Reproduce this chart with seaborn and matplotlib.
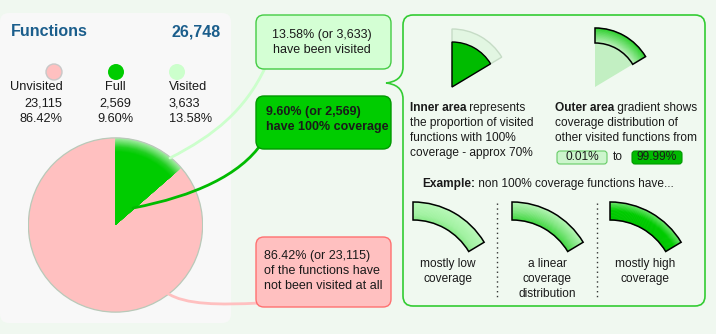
import numpy as np
import matplotlib
matplotlib.use("Agg")
import matplotlib.pyplot as plt
import seaborn as sns
from matplotlib.patches import FancyBboxPatch, Wedge, Circle, PathPatch
from matplotlib.path import Path
from matplotlib.colors import to_rgb

# ---------------- data ----------------
categories = ["Unvisited", "Full", "Visited"]
counts = [23115, 2569, 3633]
category_colors = ["#ffc0c0", "#00cc00", "#ccffcc"]
range_labels = ["0.01%", "99.99%"]
example_labels = ["mostly low\ncoverage", "a linear\ncoverage\ndistribution", "mostly high\ncoverage"]

total = counts[0] + counts[2]
pcts = [c / total * 100 for c in counts]

# ---------------- style ----------------
sns.set_theme(style="white")
plt.rcParams['font.family'] = ['Liberation Sans', 'DejaVu Sans']

BG = "#f0f8f0"
PANEL = "#f8f8f8"
TXT = "#1a1a1a"
W, H = 716, 334


def Y(y):
    return H - y


def lerp_stops(stops, t):
    for (t0, c0), (t1, c1) in zip(stops[:-1], stops[1:]):
        if t <= t1:
            f = 0 if t1 == t0 else (t - t0) / (t1 - t0)
            a, b = np.array(to_rgb(c0)), np.array(to_rgb(c1))
            return tuple(a + (b - a) * f)
    return to_rgb(stops[-1][1])


fig = plt.figure(figsize=(W / 100, H / 100), dpi=100)
fig.patch.set_facecolor(BG)

# background layer
axb = fig.add_axes([0, 0, 1, 1])
axb.set_xlim(0, W); axb.set_ylim(0, H); axb.axis('off')
axb.add_patch(FancyBboxPatch((0, Y(323)), 231, 323 - 13,
                             boxstyle="round,pad=0,rounding_size=9",
                             fc=PANEL, ec="none"))

# left panel header and legend
axb.text(11, Y(32), "Functions", fontsize=11.5, fontweight='bold', color="#1b5e8c", va='center', ha='left')
axb.text(221, Y(32), f"{total:,}", fontsize=11.5, fontweight='bold', color="#1b5e8c", va='center', ha='right')

leg_x = [54, 116, 177]
for i, (cat, cnt, pct, col) in enumerate(zip(categories, counts, pcts, category_colors)):
    ec = "#c8c8c8" if i == 0 else "none"
    axb.add_patch(Circle((leg_x[i], Y(72)), 8, fc=col, ec=ec, lw=1))
fs = 9.2
axb.text(10, Y(87), categories[0], fontsize=fs, color=TXT, va='center', ha='left')
axb.text(62, Y(103), f"{counts[0]:,}", fontsize=fs, color=TXT, va='center', ha='right')
axb.text(62, Y(119), f"{pcts[0]:.2f}%", fontsize=fs, color=TXT, va='center', ha='right')
axb.text(115, Y(87), categories[1], fontsize=fs, color=TXT, va='center', ha='center')
axb.text(115, Y(103), f"{counts[1]:,}", fontsize=fs, color=TXT, va='center', ha='center')
axb.text(115, Y(119), f"{pcts[1]:.2f}%", fontsize=fs, color=TXT, va='center', ha='center')
axb.text(169, Y(87), categories[2], fontsize=fs, color=TXT, va='center', ha='left')
axb.text(169, Y(103), f"{counts[2]:,}", fontsize=fs, color=TXT, va='center', ha='left')
axb.text(169, Y(119), f"{pcts[2]:.2f}%", fontsize=fs, color=TXT, va='center', ha='left')

# ---------------- pie ----------------
pcx, pcy, pr = 115.5, 225, 88
pax = fig.add_axes([(pcx - pr) / W, (H - pcy - pr) / H, 2 * pr / W, 2 * pr / H])
pax.patch.set_alpha(0)
visited, unvisited, full = counts[2], counts[0], counts[1]
r_full = np.sqrt(full / visited)
kw = dict(startangle=90, counterclock=False)
pax.pie([visited, unvisited], colors=["#a0eea0", category_colors[0]], radius=1,
        wedgeprops=dict(linewidth=0), **kw)
ring_stops = [(0, "#00cc00"), (0.35, "#22d022"), (1, "#a6eea6")]
n = 30
for k in range(n):
    r = 1 - (1 - r_full) * k / n
    t = (r - r_full) / (1 - r_full)
    pax.pie([visited, unvisited], colors=[lerp_stops(ring_stops, t), (0, 0, 0, 0)], radius=r,
            wedgeprops=dict(linewidth=0), **kw)
pax.pie([visited, unvisited], colors=["#00cc00", (0, 0, 0, 0)], radius=r_full,
        wedgeprops=dict(linewidth=0), **kw)
pax.add_patch(Circle((0, 0), 1, fill=False, ec="#b9c9b9", lw=0.9))
pax.set_xlim(-1.01, 1.01); pax.set_ylim(-1.01, 1.01)
pax.set_aspect('auto')
pax.axis('off')

# ---------------- foreground ----------------
ax = fig.add_axes([0, 0, 1, 1])
ax.set_xlim(0, W); ax.set_ylim(0, H); ax.axis('off')
ax.patch.set_alpha(0)


def curve(pts, color, lw=2):
    verts = [(x, Y(y)) for x, y in pts]
    codes = [Path.MOVETO] + [Path.CURVE4] * 3
    ax.add_patch(PathPatch(Path(verts, codes), fc='none', ec=color, lw=lw, capstyle='round'))


curve([(170, 158), (215, 135), (245, 110), (265, 68)], "#ccffcc")
curve([(133, 208), (195, 196), (240, 175), (262, 143)], "#00bb00")
curve([(167, 293), (185, 305), (220, 305), (260, 303)], "#ffc0c0")


def rbox(x0, y0, x1, y1, fc, ec, rs=8, lw=1):
    ax.add_patch(FancyBboxPatch((x0, Y(y1)), x1 - x0, y1 - y0,
                                boxstyle=f"round,pad=0,rounding_size={rs}",
                                fc=fc, ec=ec, lw=lw))


bfs = 9.0
rbox(256, 15, 391, 69, "#d4ffd4", "#44cc44")
ax.text(322, Y(35), f"{pcts[2]:.2f}% (or {counts[2]:,})", fontsize=bfs, color=TXT, ha='center', va='center')
ax.text(322, Y(50), "have been visited", fontsize=bfs, color=TXT, ha='center', va='center')

rbox(256, 96, 391, 149, "#00cc00", "#009900")
ax.text(266, Y(112), f"{pcts[1]:.2f}% (or {counts[1]:,})", fontsize=bfs, fontweight='bold', color=TXT, ha='left', va='center')
ax.text(266, Y(127), "have 100% coverage", fontsize=bfs, fontweight='bold', color=TXT, ha='left', va='center')

rbox(256, 237, 391, 307, "#ffc0c0", "#ff7070")
ax.text(264, Y(256), f"{pcts[0]:.2f}% (or {counts[0]:,})", fontsize=bfs, color=TXT, ha='left', va='center')
ax.text(264, Y(271), "of the functions have", fontsize=bfs, color=TXT, ha='left', va='center')
ax.text(264, Y(286), "not been visited at all", fontsize=bfs, color=TXT, ha='left', va='center')

# right panel with brace
x0, x1, y0, y1, r = 403, 705, 15, 306, 10
pv = [((x0 + r, y0), Path.MOVETO), ((x1 - r, y0), Path.LINETO),
      ((x1, y0), Path.CURVE3), ((x1, y0 + r), Path.CURVE3),
      ((x1, y1 - r), Path.LINETO),
      ((x1, y1), Path.CURVE3), ((x1 - r, y1), Path.CURVE3),
      ((x0 + r, y1), Path.LINETO),
      ((x0, y1), Path.CURVE3), ((x0, y1 - r), Path.CURVE3),
      ((x0, 99), Path.LINETO),
      ((x0, 88), Path.CURVE4), ((395, 84), Path.CURVE4), ((386, 83), Path.CURVE4),
      ((395, 82), Path.CURVE4), ((x0, 78), Path.CURVE4), ((x0, 67), Path.CURVE4),
      ((x0, y0 + r), Path.LINETO),
      ((x0, y0), Path.CURVE3), ((x0 + r, y0), Path.CURVE3),
      ((x0 + r, y0), Path.CLOSEPOLY)]
verts = [(p[0], Y(p[1])) for p, _ in pv]
codes = [c for _, c in pv]
ax.add_patch(PathPatch(Path(verts, codes), fc="#f0f9f0", ec="#33cc33", lw=1.2))


def grad_ring(cx, cy, r_in, r_out, t1, t2, stops, n=24, outline="black", lw=1.1):
    dr = (r_out - r_in) / n
    for k in range(n):
        rr = r_in + dr * (k + 1)
        t = (k + 0.5) / n
        ax.add_patch(Wedge((cx, Y(cy)), rr + 0.3, t1, t2, width=dr + 0.6, fc=lerp_stops(stops, t), ec='none', lw=0))
    if outline:
        ax.add_patch(Wedge((cx, Y(cy)), r_out, t1, t2, width=r_out - r_in, fill=False, ec=outline, lw=lw))


# icon 1: inner area
ax.add_patch(Wedge((452, Y(87)), 58, 31, 90, fc="#e2f6e2", ec="#c6dcc6", lw=1))
ax.add_patch(Wedge((452, Y(87)), 45, 31, 90, fc="#00bb00", ec="black", lw=1))
# icon 2: outer area
ax.add_patch(Wedge((595, Y(87)), 44, 31, 90, fc="#c2efc2", ec="none"))
grad_ring(595, 87, 44, 59, 31, 90, [(0, "#c0f2c0"), (0.5, "#77e277"), (1, "#2ed02e")])

tfs = 8.6


def mixed(x, y, bold, rest):
    t = ax.text(x, Y(y), bold, fontsize=tfs, fontweight='bold', color=TXT, ha='left', va='center')
    fig.canvas.draw()
    w = t.get_window_extent(renderer=fig.canvas.get_renderer()).width
    ax.text(x + w, Y(y), rest, fontsize=tfs, color=TXT, ha='left', va='center')


mixed(410, 108, "Inner area", " represents")
for i, line in enumerate(["the proportion of visited", "functions with 100%", "coverage - approx 70%"]):
    ax.text(410, Y(123 + 15 * i), line, fontsize=tfs, color=TXT, ha='left', va='center')
mixed(555, 108, "Outer area", " gradient shows")
for i, line in enumerate(["coverage distribution of", "other visited functions from"]):
    ax.text(555, Y(123 + 15 * i), line, fontsize=tfs, color=TXT, ha='left', va='center')

rbox(557, 151, 607, 164, "#ccf5cc", "#66cc66", rs=3, lw=0.8)
ax.text(582, Y(157.5), range_labels[0], fontsize=tfs, color=TXT, ha='center', va='center')
ax.text(618, Y(157.5), "to", fontsize=tfs, color=TXT, ha='center', va='center')
rbox(632, 151, 682, 164, "#00bb00", "#009900", rs=3, lw=0.8)
ax.text(657, Y(157.5), range_labels[1], fontsize=tfs, color=TXT, ha='center', va='center')

mixed(422, 184, "Example:", " non 100% coverage functions have...")

arc_x = [413, 512, 610]
arc_stops = [
    [(0, "#86ea86"), (0.35, "#a2f2a2"), (1, "#b8f8b8")],
    [(0, "#3cd63c"), (0.5, "#7fe67f"), (1, "#b4f4b4")],
    [(0, "#00c400"), (0.55, "#00cc00"), (1, "#6ae26a")],
]
label_x = [448, 547, 645]
for cx, st, lx, lab in zip(arc_x, arc_stops, label_x, example_labels):
    grad_ring(cx, 285, 65, 83, 31, 90, st)
    for j, line in enumerate(lab.split("\n")):
        ax.text(lx, Y(264 + 15 * j), line, fontsize=tfs, color=TXT, ha='center', va='center')

for dx in [497, 597]:
    ax.plot([dx, dx], [Y(203), Y(299)], color="#333333", lw=1.0, ls=(0, (1, 2.5)))

fig.savefig("out.png", dpi=100, facecolor=BG)
